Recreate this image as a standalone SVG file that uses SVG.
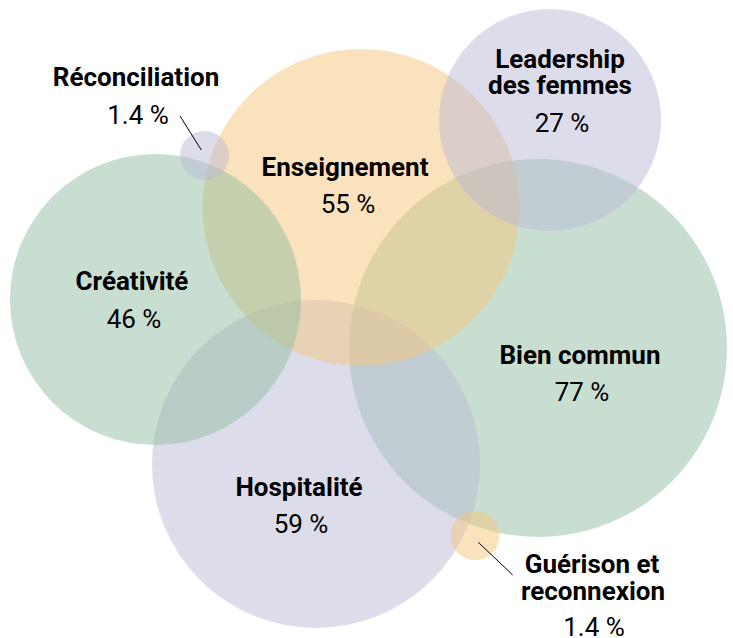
<svg xmlns="http://www.w3.org/2000/svg" width="733" height="638" viewBox="0 0 733 638">
<style>
.g{fill:#92bda1;fill-opacity:.5}
.p{fill:#bcb9d6;fill-opacity:.5}
.o{fill:#f6c67c;fill-opacity:.5}
.t{font-family:Roboto,"Liberation Sans",sans-serif;font-size:26px;fill:#000;text-anchor:middle}
.b{font-weight:bold}
.ln{stroke:#000;stroke-width:1}
</style>
<rect width="733" height="638" fill="#fff"/>
<g id="bien-commun"><circle class="g" cx="538" cy="348" r="189"/></g>
<g id="hospitalite"><circle class="p" cx="316" cy="464" r="164"/></g>
<g id="enseignement"><circle class="o" cx="361" cy="207.5" r="158.5"/></g>
<g id="creativite"><circle class="g" cx="155.5" cy="299.5" r="145.5"/></g>
<g id="leadership"><circle class="p" cx="550" cy="120" r="111"/></g>
<g id="reconciliation"><circle class="p" cx="204.5" cy="155.5" r="24.5"/></g>
<g id="guerison"><circle class="o" cx="475" cy="535.5" r="24.5"/></g>
<g id="connectors">
<line class="ln" x1="180" y1="116" x2="201.3" y2="150"/>
<line class="ln" x1="478.3" y1="542.3" x2="512.7" y2="575"/>
</g>
<g id="labels">
<text class="t b" x="136" y="86">Réconciliation</text>
<text class="t" x="138" y="124">1.4 %</text>
<text class="t b" x="345" y="176">Enseignement</text>
<text class="t" x="348" y="213">55 %</text>
<text class="t b" x="560" y="68">Leadership</text>
<text class="t b" x="560" y="94">des femmes</text>
<text class="t" x="562" y="132">27 %</text>
<text class="t b" x="132" y="290">Créativité</text>
<text class="t" x="134" y="328">46 %</text>
<text class="t b" x="580" y="364">Bien commun</text>
<text class="t" x="582" y="401">77 %</text>
<text class="t b" x="299" y="496">Hospitalité</text>
<text class="t" x="301" y="533">59 %</text>
<text class="t b" x="592" y="573">Guérison et</text>
<text class="t b" x="593" y="600">reconnexion</text>
<text class="t" x="594" y="636">1.4 %</text>
</g>
</svg>
